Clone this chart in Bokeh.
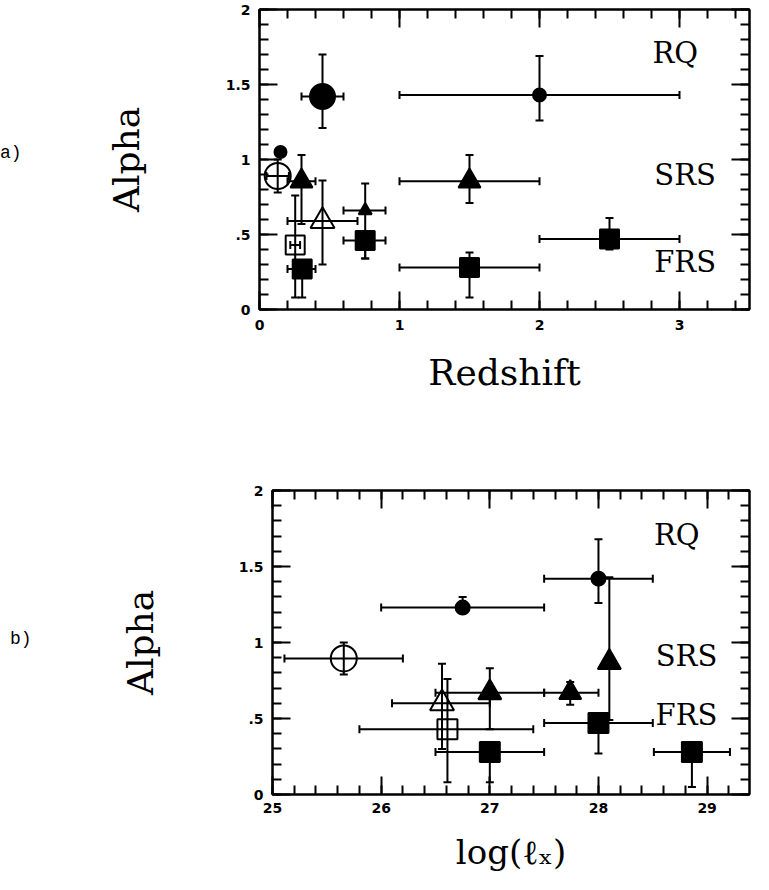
import numpy as np
from bokeh.plotting import figure
from bokeh.models import (ColumnDataSource, Whisker, TeeHead, FixedTicker, LinearAxis,
                          Range1d, CustomLabelingPolicy, Div)
from bokeh.layouts import column, row
from bokeh.embed import file_html
from bokeh.resources import INLINE
from bokeh.core.properties import value

# ---------------- Panel a) : Alpha vs Redshift ----------------
a_x = [0.45, 2.0, 0.15, 0.13, 0.30, 0.45, 0.755, 0.755, 0.255, 0.305, 1.5, 1.5, 2.5]
a_y = [1.42, 1.43, 1.05, 0.89, 0.855, 0.59, 0.66, 0.46, 0.43, 0.27, 0.855, 0.28, 0.47]
a_xlo = [0.30, 1.0, 0.15, 0.05, 0.20, 0.20, 0.60, 0.60, 0.22, 0.20, 1.0, 1.0, 2.0]
a_xhi = [0.60, 3.0, 0.15, 0.21, 0.40, 0.70, 0.90, 0.90, 0.29, 0.40, 2.0, 2.0, 3.0]
a_ylo = [1.21, 1.26, 1.05, 0.78, 0.57, 0.30, 0.34, 0.34, 0.08, 0.08, 0.71, 0.08, 0.40]
a_yhi = [1.70, 1.69, 1.05, 1.00, 1.03, 0.86, 0.84, 0.46, 0.76, 0.27, 1.03, 0.38, 0.61]
a_marker = ["circle", "circle", "circle", "circle", "triangle", "triangle", "triangle",
            "square", "square", "square", "triangle", "square", "square"]
a_open = [False, False, False, True, False, True, False, False, True, False, False, False, False]
a_size = [25, 13, 12, 26, 22, 24, 13, 19, 19, 19, 22, 19, 19]

a_lab = ["RQ", "SRS", "FRS"]
a_lab_x = [2.97, 3.04, 3.04]
a_lab_y = [1.71, 0.90, 0.32]

# ---------------- Panel b) : Alpha vs log(l_x) ----------------
b_x = [25.656, 26.75, 28.0, 28.10, 27.0, 27.74, 26.56, 26.61, 27.0, 28.0, 28.86]
b_y = [0.895, 1.23, 1.42, 0.87, 0.67, 0.67, 0.60, 0.43, 0.28, 0.47, 0.28]
b_xlo = [25.11, 26.0, 27.5, 28.05, 26.5, 27.5, 26.1, 25.8, 26.5, 27.5, 28.51]
b_xhi = [26.2, 27.5, 28.5, 28.15, 27.5, 28.0, 27.0, 27.4, 27.5, 28.5, 29.21]
b_ylo = [0.79, 1.20, 1.26, 0.49, 0.43, 0.59, 0.30, 0.08, 0.08, 0.27, 0.05]
b_yhi = [1.00, 1.30, 1.68, 1.43, 0.83, 0.74, 0.86, 0.76, 0.28, 0.47, 0.28]
b_marker = ["circle", "circle", "circle", "triangle", "triangle", "triangle", "triangle",
            "square", "square", "square", "square"]
b_open = [True, False, False, False, False, False, True, True, False, False, False]
b_size = [26, 14, 14, 23, 23, 22, 24, 20, 20, 20, 20]

b_lab = ["RQ", "SRS", "FRS"]
b_lab_x = [28.72, 28.81, 28.81]
b_lab_y = [1.71, 0.91, 0.52]

y_ticks = [0, 0.5, 1, 1.5, 2]
y_tick_labels = ["0", ".5", "1", "1.5", "2"]
a_xticks = [0, 1, 2, 3]
b_xticks = [25, 26, 27, 28, 29]

SERIF = "DejaVu Serif"
TAG_W = 40

NO_LABELS = CustomLabelingPolicy(code="""
    for (const i of indices) { indices.unset(i) }
    return indices
""")


def style_axis(ax, show_labels=True):
    ax.axis_line_width = 2
    ax.axis_line_color = "black"
    ax.major_tick_in = 18
    ax.major_tick_out = 0
    ax.minor_tick_in = 9
    ax.minor_tick_out = 0
    ax.major_tick_line_width = 2
    ax.minor_tick_line_width = 2
    ax.major_tick_line_color = "black"
    ax.minor_tick_line_color = "black"
    if show_labels:
        ax.major_label_text_font = "DejaVu Sans"
        ax.major_label_text_font_style = "bold"
        ax.major_label_text_font_size = "14px"
        ax.major_label_text_color = "black"
    else:
        ax.major_label_policy = NO_LABELS
        ax.major_label_text_font_size = "1px"
        ax.major_label_standoff = 0


def make_panel(x, y, xlo, xhi, ylo, yhi, marker, opn, size, labs, lab_x, lab_y,
               xr, xticks, xminor_step, xlabel, width, height, mb,
               ylab_standoff, xlab_standoff, xlab_size, xtick_standoff):
    p = figure(width=width, height=height, output_backend="svg", toolbar_location=None,
               x_range=Range1d(*xr), y_range=Range1d(0, 2),
               min_border_left=mb[0], min_border_right=mb[1],
               min_border_top=mb[2], min_border_bottom=mb[3],
               x_axis_type=None, y_axis_type=None)
    p.background_fill_color = "white"
    p.border_fill_color = "white"
    p.outline_line_color = "black"
    p.outline_line_width = 2
    p.xgrid.visible = False
    p.ygrid.visible = False

    xminor = list(np.round(np.arange(xr[0], xr[1] + 1e-9, xminor_step), 6))
    yminor = list(np.round(np.arange(0, 2.0001, 0.1), 6))
    xt = FixedTicker(ticks=xticks, minor_ticks=xminor)
    yt = FixedTicker(ticks=y_ticks, minor_ticks=yminor)

    bx = LinearAxis(ticker=xt, axis_label=xlabel)
    style_axis(bx)
    bx.major_label_standoff = xtick_standoff
    bx.axis_label_text_font = SERIF
    bx.axis_label_text_font_style = "normal"
    bx.axis_label_text_font_size = xlab_size
    bx.axis_label_text_color = "black"
    bx.axis_label_standoff = xlab_standoff
    p.add_layout(bx, "below")

    ly = LinearAxis(ticker=yt, axis_label="Alpha")
    style_axis(ly)
    ly.major_label_standoff = 9
    ly.major_label_overrides = {t: s for t, s in zip(y_ticks, y_tick_labels)}
    ly.axis_label_text_font = SERIF
    ly.axis_label_text_font_style = "normal"
    ly.axis_label_text_font_size = "36px"
    ly.axis_label_text_color = "black"
    ly.axis_label_standoff = ylab_standoff
    p.add_layout(ly, "left")

    tx = LinearAxis(ticker=xt)
    style_axis(tx, show_labels=False)
    p.add_layout(tx, "above")
    ry = LinearAxis(ticker=yt)
    style_axis(ry, show_labels=False)
    p.add_layout(ry, "right")

    fill = ["white" if o else "black" for o in opn]
    falpha = [0.0 if o else 1.0 for o in opn]
    src = ColumnDataSource(dict(x=x, y=y, xlo=xlo, xhi=xhi, ylo=ylo, yhi=yhi,
                                marker=marker, size=size, fill=fill, falpha=falpha))

    for base, lo, hi, dim in (("y", "xlo", "xhi", "width"), ("x", "ylo", "yhi", "height")):
        w = Whisker(source=src, base=base, lower=lo, upper=hi, dimension=dim,
                    line_color="black", line_width=2,
                    lower_head=TeeHead(size=8, line_width=2, line_color="black"),
                    upper_head=TeeHead(size=8, line_width=2, line_color="black"),
                    level="underlay")
        p.add_layout(w)

    p.scatter("x", "y", source=src, marker="marker", size="size",
              fill_color="fill", fill_alpha="falpha", line_color="black", line_width=2)

    p.text(x=lab_x, y=lab_y, text=labs, text_font=value(SERIF), text_font_size="29px",
           text_align="center", text_baseline="middle", text_color="black")
    return p


def tag_div(text, height, pad_top, pad_left):
    html = ('<div style="font-family:\'Liberation Mono\',monospace;font-size:18px;'
            'line-height:22px;color:black;padding-top:%dpx;padding-left:%dpx;">%s</div>'
            % (pad_top, pad_left, text))
    return Div(text=html, width=TAG_W, height=height, margin=0)


# top: frame page x 267..758, y 17..317  (canvas starts at page 8+TAG_W, 8)
p1 = make_panel(a_x, a_y, a_xlo, a_xhi, a_ylo, a_yhi, a_marker, a_open, a_size,
                a_lab, a_lab_x, a_lab_y, (0, 3.5), a_xticks, 0.2, "Redshift",
                753 - TAG_W, 397, (259 - TAG_W, 3, 9, 88), 76, 19, "36px", 10)

# bottom: frame page x 280..760, y 498..802
p2 = make_panel(b_x, b_y, b_xlo, b_xhi, b_ylo, b_yhi, b_marker, b_open, b_size,
                b_lab, b_lab_x, b_lab_y, (25, 29.39), b_xticks, 0.2, "log(ℓₓ)",
                753 - TAG_W, 477, (272 - TAG_W, 1, 93, 80), 75, 16, "34px", 8)

d1 = tag_div("a)", 397, 142, 0)
d2 = tag_div("b)", 477, 231, 10)

layout = column(row(d1, p1, spacing=0), row(d2, p2, spacing=0), spacing=0)
open("out.html", "w").write(file_html(layout, INLINE))
